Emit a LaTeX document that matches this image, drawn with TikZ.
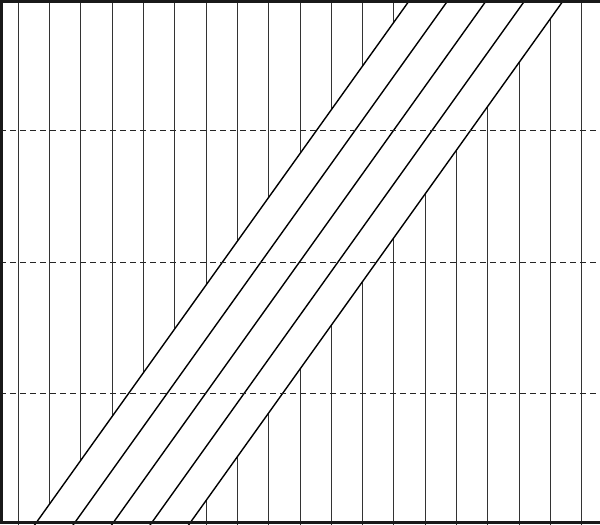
\documentclass[tikz,border=0pt]{standalone}
\begin{document}
\begin{tikzpicture}[x=1pt,y=-1pt,
  vline/.style={draw=black!80,line width=1.6pt},
  dline/.style={draw=black,line width=1.4pt},
  hdash/.style={draw=black!85,line width=1.6pt,dash pattern=on 6pt off 4pt},
  frame/.style={draw=black!90,line width=2.8pt}]
\useasboundingbox (0,0) rectangle (600,525);
\begin{scope}
\clip (0,0) rectangle (600,525);
% vertical lines
\foreach \k in {0,...,18} {
  \pgfmathsetmacro{\xx}{floor(18.3+31.3*\k)+0.5}
  \draw[vline] (\xx,0) -- (\xx,525);
}
% white band covering the verticals
\fill[white] (413.3,-5) -- (31.0,530) -- ({31.0+4*38.5},530) -- ({413.3+4*38.5},-5) -- cycle;
% diagonal lines
\foreach \i in {0,...,4} {
  \coordinate (t\i) at ({413.3+38.5*\i},-5);
  \coordinate (b\i) at ({31.0+38.5*\i},530);
  \draw[dline] (t\i) -- (b\i);
}
% dashed horizontal lines
\foreach \y in {130.5,262.5,393.5} {
  \draw[hdash] (0,\y) -- (600,\y);
}
% frame (left, top, bottom)
\draw[frame] (602,1.2) -- (1.2,1.2) -- (1.2,522.8) -- (602,522.8);
\end{scope}
\end{tikzpicture}
\end{document}
